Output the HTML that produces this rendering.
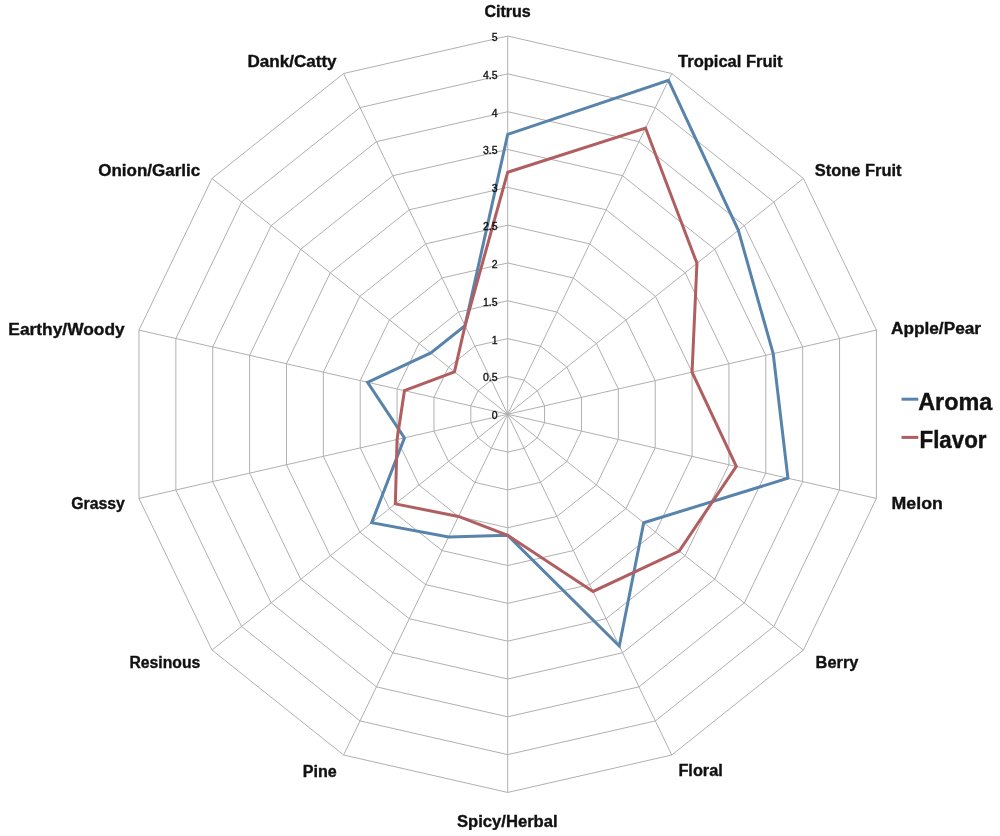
<!DOCTYPE html><html><head><meta charset="utf-8"><style>html,body{margin:0;padding:0;background:#fff;}svg{display:block;will-change:transform;}.t{opacity:0.999;}text{font-family:"Liberation Sans",sans-serif;}</style></head><body>
<svg width="1000" height="836" viewBox="0 0 1000 836">
<rect width="1000" height="836" fill="#fff"/>
<g fill="none" stroke="#b0b0b0" stroke-width="1"><polygon points="507.70,376.43 524.11,380.18 537.27,390.67 544.57,405.83 544.57,422.67 537.27,437.83 524.11,448.32 507.70,452.07 491.29,448.32 478.13,437.83 470.83,422.67 470.83,405.83 478.13,390.67 491.29,380.18"/><polygon points="507.70,338.61 540.52,346.10 566.84,367.09 581.44,397.42 581.44,431.08 566.84,461.41 540.52,482.40 507.70,489.89 474.88,482.40 448.56,461.41 433.96,431.08 433.96,397.42 448.56,367.09 474.88,346.10"/><polygon points="507.70,300.79 556.93,312.03 596.41,343.51 618.32,389.00 618.32,439.50 596.41,484.99 556.93,516.47 507.70,527.71 458.47,516.47 418.99,484.99 397.08,439.50 397.08,389.00 418.99,343.51 458.47,312.03"/><polygon points="507.70,262.97 573.34,277.95 625.98,319.93 655.19,380.59 655.19,447.91 625.98,508.57 573.34,550.55 507.70,565.53 442.06,550.55 389.42,508.57 360.21,447.91 360.21,380.59 389.42,319.93 442.06,277.95"/><polygon points="507.70,225.15 589.75,243.88 655.54,296.35 692.06,372.17 692.06,456.33 655.54,532.15 589.75,584.62 507.70,603.35 425.65,584.62 359.86,532.15 323.34,456.33 323.34,372.17 359.86,296.35 425.65,243.88"/><polygon points="507.70,187.33 606.16,209.80 685.11,272.77 728.93,363.76 728.93,464.74 685.11,555.73 606.16,618.70 507.70,641.17 409.24,618.70 330.29,555.73 286.47,464.74 286.47,363.76 330.29,272.77 409.24,209.80"/><polygon points="507.70,149.51 622.57,175.73 714.68,249.19 765.80,355.34 765.80,473.16 714.68,579.31 622.57,652.77 507.70,678.99 392.83,652.77 300.72,579.31 249.60,473.16 249.60,355.34 300.72,249.19 392.83,175.73"/><polygon points="507.70,111.69 638.98,141.65 744.25,225.61 802.67,346.92 802.67,481.58 744.25,602.89 638.98,686.85 507.70,716.81 376.42,686.85 271.15,602.89 212.73,481.58 212.73,346.92 271.15,225.61 376.42,141.65"/><polygon points="507.70,73.87 655.39,107.58 773.82,202.03 839.55,338.51 839.55,489.99 773.82,626.47 655.39,720.92 507.70,754.63 360.01,720.92 241.58,626.47 175.85,489.99 175.85,338.51 241.58,202.03 360.01,107.58"/><polygon points="507.70,36.05 671.79,73.50 803.39,178.45 876.42,330.09 876.42,498.41 803.39,650.05 671.79,755.00 507.70,792.45 343.61,755.00 212.01,650.05 138.98,498.41 138.98,330.09 212.01,178.45 343.61,73.50"/><line x1="507.70" y1="414.25" x2="507.70" y2="36.05"/><line x1="507.70" y1="414.25" x2="671.79" y2="73.50"/><line x1="507.70" y1="414.25" x2="803.39" y2="178.45"/><line x1="507.70" y1="414.25" x2="876.42" y2="330.09"/><line x1="507.70" y1="414.25" x2="876.42" y2="498.41"/><line x1="507.70" y1="414.25" x2="803.39" y2="650.05"/><line x1="507.70" y1="414.25" x2="671.79" y2="755.00"/><line x1="507.70" y1="414.25" x2="507.70" y2="792.45"/><line x1="507.70" y1="414.25" x2="343.61" y2="755.00"/><line x1="507.70" y1="414.25" x2="212.01" y2="650.05"/><line x1="507.70" y1="414.25" x2="138.98" y2="498.41"/><line x1="507.70" y1="414.25" x2="138.98" y2="330.09"/><line x1="507.70" y1="414.25" x2="212.01" y2="178.45"/><line x1="507.70" y1="414.25" x2="343.61" y2="73.50"/></g>
<polygon points="507.70,134.38 668.51,80.32 738.34,230.32 773.18,353.66 787.93,478.21 643.72,522.72 619.28,645.96 507.70,535.27 448.63,536.92 371.68,522.72 404.46,437.81 367.59,382.27 430.82,352.94 465.04,325.66" fill="none" stroke="#5883ab" stroke-width="3" stroke-linejoin="miter"/>
<polygon points="507.70,172.20 645.54,128.02 696.94,263.34 692.06,372.17 736.30,466.43 679.20,551.02 593.03,591.44 507.70,535.27 458.47,516.47 395.34,503.86 397.08,439.50 404.46,390.69 454.48,371.81 465.04,325.66" fill="none" stroke="#b05e60" stroke-width="3" stroke-linejoin="miter"/>
<g font-size="10.5" fill="#111" stroke="#111" stroke-width="0.35"><text x="497.6" y="419.15" text-anchor="end">0</text><text x="497.6" y="381.33" text-anchor="end">0.5</text><text x="497.6" y="343.51" text-anchor="end">1</text><text x="497.6" y="305.69" text-anchor="end">1.5</text><text x="497.6" y="267.87" text-anchor="end">2</text><text x="497.6" y="230.05" text-anchor="end">2.5</text><text x="497.6" y="192.23" text-anchor="end">3</text><text x="497.6" y="154.41" text-anchor="end">3.5</text><text x="497.6" y="116.59" text-anchor="end">4</text><text x="497.6" y="78.77" text-anchor="end">4.5</text><text x="497.6" y="40.95" text-anchor="end">5</text></g>
<g class="t" font-size="16" font-weight="bold" fill="#111" stroke="#111" stroke-width="0.35"><text x="484.4" y="17.0" textLength="46.4" lengthAdjust="spacingAndGlyphs">Citrus</text><text x="678.1" y="66.6" textLength="104.5" lengthAdjust="spacingAndGlyphs">Tropical Fruit</text><text x="814.8" y="175.8" textLength="86.8" lengthAdjust="spacingAndGlyphs">Stone Fruit</text><text x="891.0" y="334.0" textLength="90.0" lengthAdjust="spacingAndGlyphs">Apple/Pear</text><text x="891.6" y="509.4" textLength="51.2" lengthAdjust="spacingAndGlyphs">Melon</text><text x="815.6" y="667.6" textLength="42.8" lengthAdjust="spacingAndGlyphs">Berry</text><text x="678.4" y="776.4" textLength="44.4" lengthAdjust="spacingAndGlyphs">Floral</text><text x="457.0" y="826.6" textLength="100.6" lengthAdjust="spacingAndGlyphs">Spicy/Herbal</text><text x="302.8" y="776.6" textLength="34.0" lengthAdjust="spacingAndGlyphs">Pine</text><text x="129.5" y="667.5" textLength="70.8" lengthAdjust="spacingAndGlyphs">Resinous</text><text x="71.2" y="509.4" textLength="53.6" lengthAdjust="spacingAndGlyphs">Grassy</text><text x="8.3" y="334.5" textLength="116.4" lengthAdjust="spacingAndGlyphs">Earthy/Woody</text><text x="98.2" y="176.2" textLength="102.0" lengthAdjust="spacingAndGlyphs">Onion/Garlic</text><text x="247.4" y="66.7" textLength="89.2" lengthAdjust="spacingAndGlyphs">Dank/Catty</text></g>
<line x1="901.5" y1="399.2" x2="918.3" y2="399.2" stroke="#5883ab" stroke-width="3"/>
<line x1="901.5" y1="437.4" x2="918.3" y2="437.4" stroke="#b05e60" stroke-width="3"/>
<text x="918.2" y="409.7" font-size="23" font-weight="bold" fill="#111" stroke="#111" stroke-width="0.4" textLength="74" lengthAdjust="spacingAndGlyphs">Aroma</text>
<text x="919.5" y="447.5" font-size="23" font-weight="bold" fill="#111" stroke="#111" stroke-width="0.4" textLength="67" lengthAdjust="spacingAndGlyphs">Flavor</text>
</svg></body></html>
